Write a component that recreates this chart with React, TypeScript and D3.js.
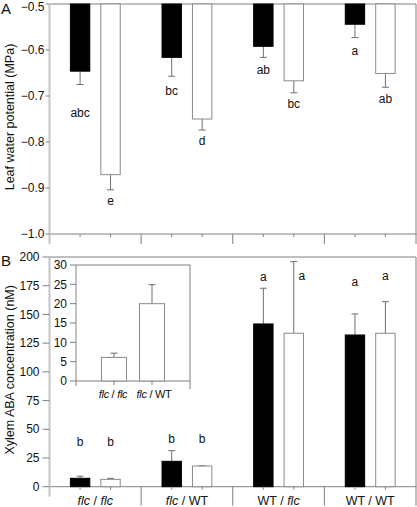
import React from "react";
import * as d3 from "d3";

const groups = ["flc/flc", "flc/WT", "WT/flc", "WT/WT"];
const groupParts: [string, boolean, string, boolean][] = [
  ["flc", true, "flc", true],
  ["flc", true, "WT", false],
  ["WT", false, "flc", true],
  ["WT", false, "WT", false],
];
const series = ["black", "white"];

// Panel A: leaf water potential (MPa)
const aBlack = [-0.646, -0.616, -0.592, -0.544];
const aBlackErr = [0.029, 0.041, 0.024, 0.029];
const aWhite = [-0.871, -0.75, -0.667, -0.651];
const aWhiteErr = [0.033, 0.024, 0.026, 0.03];
const aBlackLetters = ["abc", "bc", "ab", "a"];
const aWhiteLetters = ["e", "d", "bc", "ab"];
const aBlackLetterY = [-0.737, -0.688, -0.643, -0.602];
const aWhiteLetterY = [-0.928, -0.797, -0.718, -0.705];
const aTicks = [-0.5, -0.6, -0.7, -0.8, -0.9, -1.0];

// Panel B: xylem ABA (nM)
const bBlack = [7.3, 22.1, 141.7, 132.1];
const bBlackErr = [1.8, 9.3, 31.1, 18.3];
const bWhite = [6.4, 18.0, 133.6, 133.6];
const bWhiteErr = [0.9, 0.3, 62.4, 27.5];
const bBlackLetters = ["b", "b", "a", "a"];
const bWhiteLetters = ["b", "b", "a", "a"];
const bBlackLetterY = [39.5, 41.3, 183, 178.6];
const bWhiteLetterY = [39.5, 41.3, 183.8, 183.8];
const bTicks = [0, 25, 50, 75, 100, 125, 150, 175, 200];

// Inset
const insetGroups = ["flc/flc", "flc/WT"];
const insetValues = [6.1, 20.0];
const insetErr = [1.1, 4.9];
const insetTicks = [0, 5, 10, 15, 20, 25, 30];

const FONT = "Liberation Sans, Arial, sans-serif";
const AXIS_GRAY = "#c4c4c4";
const LINE_GRAY = "#808080";
const ERR_GRAY = "#707070";
const fmtA = d3.format(".1f");

function CatLabel({ x, y, parts, size = 12.5, ls = 0 }: { x: number; y: number; parts: [string, boolean, string, boolean]; size?: number; ls?: number }) {
  return (
    <text x={x} y={y} textAnchor="middle" fontSize={size} fontFamily={FONT} fill="#111" letterSpacing={ls}>
      <tspan fontStyle={parts[1] ? "italic" : "normal"}>{parts[0]}</tspan>
      <tspan> / </tspan>
      <tspan fontStyle={parts[3] ? "italic" : "normal"}>{parts[2]}</tspan>
    </text>
  );
}

export default function App() {
  const left = 49.5;
  const right = 416;
  const xG = d3.scaleBand<string>().domain(groups).range([left, right]).paddingInner(0).paddingOuter(0);
  const xS = d3.scaleBand<string>().domain(series).range([0, xG.bandwidth()]).paddingInner(0.33).paddingOuter(0.67);

  const yA = d3.scaleLinear().domain([-0.5, -1.0]).range([4, 234]);
  const yB = d3.scaleLinear().domain([0, 200]).range([486.7, 257]);

  const insL = 76, insR = 190;
  const xI = d3.scalePoint<string>().domain(insetGroups).range([insL, insR]).padding(1);
  const yI = d3.scaleLinear().domain([0, 30]).range([381, 265]);

  const bw = xS.bandwidth();
  const cap = 3.5;

  const barsA = groups.flatMap((g, i) => [
    { g, s: "black", v: aBlack[i], e: aBlackErr[i], l: aBlackLetters[i], ly: aBlackLetterY[i] },
    { g, s: "white", v: aWhite[i], e: aWhiteErr[i], l: aWhiteLetters[i], ly: aWhiteLetterY[i] },
  ]);
  const barsB = groups.flatMap((g, i) => [
    { g, s: "black", v: bBlack[i], e: bBlackErr[i], l: bBlackLetters[i], ly: bBlackLetterY[i], dx: 0 },
    { g, s: "white", v: bWhite[i], e: bWhiteErr[i], l: bWhiteLetters[i], ly: bWhiteLetterY[i], dx: i === 2 ? 8 : 0 },
  ]);

  return (
    <svg width={417} height={507} style={{ position: "absolute", left: 0, top: 0 }} fontFamily={FONT}>
      <rect width={417} height={507} fill="#fff" />
      {/* ===== Panel A ===== */}
      <text x={1} y={14} fontSize={15} fill="#111">A</text>
      <text transform={`translate(14,${(yA(-0.5) + yA(-1.0)) / 2 - 2}) rotate(-90)`} textAnchor="middle" fontSize={12.5} fill="#111">
        Leaf water potential (MPa)
      </text>
      {/* frame */}
      <line x1={left} x2={right} y1={yA(-0.5)} y2={yA(-0.5)} stroke={LINE_GRAY} />
      <line x1={right} x2={right} y1={yA(-0.5)} y2={yA(-1.0)} stroke={LINE_GRAY} />
      <line x1={left} x2={right + 0.5} y1={yA(-1.0)} y2={yA(-1.0)} stroke={LINE_GRAY} />
      {/* bars */}
      {barsA.map((b, k) => {
        const x0 = xG(b.g)! + xS(b.s)!;
        const cx = x0 + bw / 2;
        const y0 = yA(-0.5);
        const y1 = yA(b.v);
        const ye = yA(b.v - b.e);
        return (
          <g key={"a" + k}>
            <line x1={cx} x2={cx} y1={y1} y2={ye} stroke={ERR_GRAY} />
            <line x1={cx - cap} x2={cx + cap} y1={ye} y2={ye} stroke={ERR_GRAY} />
            <rect x={x0 + 0.5} y={y0} width={bw - 1} height={y1 - y0}
              fill={b.s === "black" ? "#000" : "#fff"} stroke={b.s === "black" ? "#000" : "#8a8a8a"} strokeWidth={1} />
            <text x={cx} y={yA(b.ly)} dy="0.35em" textAnchor="middle" fontSize={12} fill="#111">{b.l}</text>
          </g>
        );
      })}
      {/* y axis A */}
      <line x1={left} x2={left} y1={yA(-0.5)} y2={yA(-1.0) + 10} stroke={AXIS_GRAY} strokeWidth={2} />
      {aTicks.map((t) => (
        <g key={"at" + t}>
          <line x1={left - 4} x2={left} y1={yA(t)} y2={yA(t)} stroke={LINE_GRAY} />
          <text x={left - 5} y={Math.max(yA(t), 6.5)} dy="0.35em" textAnchor="end" fontSize={12} fill="#111">{fmtA(t)}</text>
        </g>
      ))}
      {/* x ticks A */}
      {groups.map((g) => (
        <g key={"axt" + g}>
          {series.map((s) => {
            const cx = xG(g)! + xS(s)! + bw / 2;
            return <line key={s} x1={cx} x2={cx} y1={yA(-1.0)} y2={yA(-1.0) + 3} stroke={LINE_GRAY} />;
          })}
          <line x1={xG(g)! + xG.bandwidth()} x2={xG(g)! + xG.bandwidth()} y1={yA(-1.0)} y2={yA(-1.0) + 10} stroke={LINE_GRAY} />
        </g>
      ))}

      {/* ===== Panel B ===== */}
      <text x={1} y={266} fontSize={15} fill="#111">B</text>
      <text transform={`translate(14,${(yB(0) + yB(200)) / 2 - 2}) rotate(-90)`} textAnchor="middle" fontSize={12.5} fill="#111">
        Xylem ABA concentration (nM)
      </text>
      <line x1={left} x2={right} y1={yB(200)} y2={yB(200)} stroke={LINE_GRAY} />
      <line x1={right} x2={right} y1={yB(200)} y2={yB(0)} stroke={LINE_GRAY} />
      <line x1={left} x2={right + 0.5} y1={yB(0)} y2={yB(0)} stroke={LINE_GRAY} />
      {barsB.map((b, k) => {
        const x0 = xG(b.g)! + xS(b.s)!;
        const cx = x0 + bw / 2;
        const y0 = yB(0);
        const y1 = yB(b.v);
        const ye = yB(b.v + b.e);
        return (
          <g key={"b" + k}>
            <line x1={cx} x2={cx} y1={y1} y2={ye} stroke={ERR_GRAY} />
            <line x1={cx - cap} x2={cx + cap} y1={ye} y2={ye} stroke={ERR_GRAY} />
            <rect x={x0 + 0.5} y={y1} width={bw - 1} height={y0 - y1}
              fill={b.s === "black" ? "#000" : "#fff"} stroke={b.s === "black" ? "#000" : "#8a8a8a"} strokeWidth={1} />
            <text x={cx + b.dx} y={yB(b.ly)} dy="0.35em" textAnchor="middle" fontSize={12} fill="#111">{b.l}</text>
          </g>
        );
      })}
      <line x1={left} x2={left} y1={yB(200)} y2={yB(0) + 10} stroke={AXIS_GRAY} strokeWidth={2} />
      {bTicks.map((t) => (
        <g key={"bt" + t}>
          <line x1={left - 7} x2={left} y1={yB(t)} y2={yB(t)} stroke={LINE_GRAY} />
          <text x={left - 10} y={yB(t)} dy="0.35em" textAnchor="end" fontSize={12} fill="#111">{t}</text>
        </g>
      ))}
      {groups.map((g, i) => (
        <g key={"bxt" + g}>
          {series.map((s) => {
            const cx = xG(g)! + xS(s)! + bw / 2;
            return <line key={s} x1={cx} x2={cx} y1={yB(0)} y2={yB(0) + 3} stroke={LINE_GRAY} />;
          })}
          <line x1={xG(g)! + xG.bandwidth()} x2={xG(g)! + xG.bandwidth()} y1={yB(0)} y2={yB(0) + 19} stroke={LINE_GRAY} />
          <CatLabel x={xG(g)! + xG.bandwidth() / 2} y={505} parts={groupParts[i]} />
        </g>
      ))}

      {/* ===== Inset ===== */}
      <rect x={insL} y={yI(30)} width={insR - insL} height={yI(0) - yI(30)} fill="#fff" />
      <line x1={insL} x2={insR} y1={yI(30)} y2={yI(30)} stroke={LINE_GRAY} />
      <line x1={insR} x2={insR} y1={yI(30)} y2={yI(0) + 8} stroke={LINE_GRAY} />
      <line x1={insL} x2={insR} y1={yI(0)} y2={yI(0)} stroke={LINE_GRAY} />
      <line x1={insL} x2={insL} y1={yI(30)} y2={yI(0) + 5} stroke={LINE_GRAY} />
      {insetGroups.map((g, i) => {
        const cx = xI(g)!;
        const w = 25;
        const y1 = yI(insetValues[i]);
        const ye = yI(insetValues[i] + insetErr[i]);
        return (
          <g key={"ins" + g}>
            <line x1={cx} x2={cx} y1={y1} y2={ye} stroke={ERR_GRAY} />
            <line x1={cx - cap} x2={cx + cap} y1={ye} y2={ye} stroke={ERR_GRAY} />
            <rect x={cx - w / 2} y={y1} width={w} height={yI(0) - y1} fill="#fff" stroke="#8a8a8a" />
            <line x1={cx} x2={cx} y1={yI(0)} y2={yI(0) + 4} stroke={LINE_GRAY} />
            <CatLabel x={cx + (i === 0 ? -1 : 2)} y={398} parts={groupParts[i]} size={11} ls={-0.3} />
          </g>
        );
      })}
      {insetTicks.map((t) => (
        <g key={"it" + t}>
          <line x1={insL - 6} x2={insL} y1={yI(t)} y2={yI(t)} stroke={LINE_GRAY} />
          <text x={insL - 9} y={yI(t)} dy="0.35em" textAnchor="end" fontSize={12} fill="#111">{t}</text>
        </g>
      ))}
    </svg>
  );
}
